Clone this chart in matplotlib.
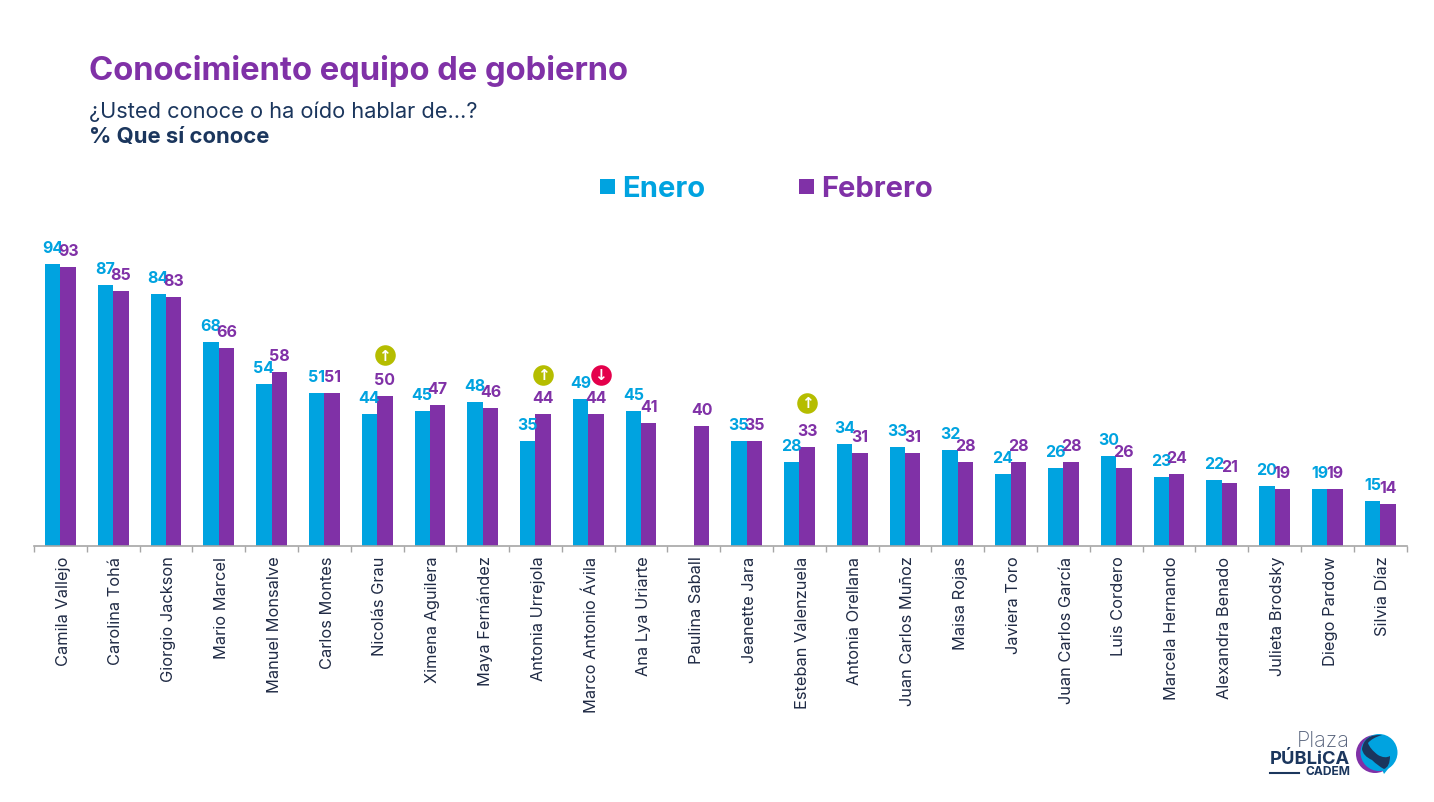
import numpy as np
import matplotlib
matplotlib.use("Agg")
import matplotlib.pyplot as plt
from matplotlib.patches import Circle, Polygon, PathPatch
from matplotlib.path import Path

W,H = 1434,803
FONT = ["Inter","DejaVu Sans"]
plt.rcParams['font.family'] = FONT

names = ["Camila Vallejo","Carolina Tohá","Giorgio Jackson","Mario Marcel","Manuel Monsalve",
         "Carlos Montes","Nicolás Grau","Ximena Aguilera","Maya Fernández","Antonia Urrejola",
         "Marco Antonio Ávila","Ana Lya Uriarte","Paulina Saball","Jeanette Jara","Esteban Valenzuela",
         "Antonia Orellana","Juan Carlos Muñoz","Maisa Rojas","Javiera Toro","Juan Carlos García",
         "Luis Cordero","Marcela Hernando","Alexandra Benado","Julieta Brodsky","Diego Pardow","Silvia Díaz"]
enero = [94,87,84,68,54,51,44,45,48,35,49,45,np.nan,35,28,34,33,32,24,26,30,23,22,20,19,15]
febrero = [93,85,83,66,58,51,50,47,46,44,44,41,40,35,33,31,31,28,28,28,26,24,21,19,19,14]
# significant changes: category index, direction, height of the badge on the y axis
flags = [(6,"up",63.4),(9,"up",57),(10,"down",57),(14,"up",47.7)]

BLUE = "#00A3E0"
PURPLE = "#8031A7"
NAVY = "#1B365D"
GREEN = "#B5BD00"
RED = "#E4004B"

fig = plt.figure(figsize=(W/100,H/100),dpi=100)
# axes placed in pixels: baseline at y=546.5, 3 px per point
ax = fig.add_axes([34/W,1-546.6/H,(1406.5-34)/W,300/H])
ax.set_xlim(-0.5,len(names)-0.5)
ax.set_ylim(0,100)
ax.patch.set_alpha(0)

x = np.arange(len(names))
bw = 15.4/52.8
ax.bar(x-bw/2,enero,bw,color=BLUE,linewidth=0)
ax.bar(x+bw/2,febrero,bw,color=PURPLE,linewidth=0)

for i in x:
    if not np.isnan(enero[i]):
        ax.annotate(str(enero[i]),(i-bw/2,enero[i]),xytext=(0,6),textcoords="offset points",ha="center",va="bottom",
                    fontsize=11.5,fontweight="bold",color=BLUE)
    ax.annotate(str(febrero[i]),(i+bw/2,febrero[i]),xytext=(0,6),textcoords="offset points",ha="center",va="bottom",
                fontsize=11.5,fontweight="bold",color=PURPLE)

for i,d,h in flags:
    if d == "up":
        px,col,gl = i+bw/2,GREEN,"↑"
    else:
        px,col,gl = i+bw/2+0.09,RED,"↓"
    ax.plot([px],[h],"o",ms=14.8,color=col,mew=0,clip_on=False)
    ax.text(px,h,gl,ha="center",va="center",fontsize=11,fontweight="bold",color="white",family="DejaVu Sans")

for s in ["top","left","right"]:
    ax.spines[s].set_visible(False)
ax.spines["bottom"].set_color("#A6A6A6")
ax.spines["bottom"].set_linewidth(1.2)
ax.set_yticks([])
ax.set_xticks(x-0.5,minor=False)
ax.set_xticks([len(names)-0.5],minor=True)
ax.set_xticklabels([])
ax.tick_params(axis="x",which="both",length=4,width=1,color="#A6A6A6",direction="out")
for i,n in enumerate(names):
    ax.annotate(n,(i,0),xytext=(2,-7.2),textcoords="offset points",rotation=90,ha="center",va="top",
                fontsize=11.8,color="#1F2A44")

# titles and legend
fig.text(89/W,1-80/H,"Conocimiento equipo de gobierno",fontsize=23.6,fontweight="bold",color=PURPLE,va="baseline")
fig.text(89/W,1-118/H,"¿Usted conoce o ha oído hablar de…?",fontsize=15.7,color=NAVY,va="baseline")
fig.text(89/W,1-143/H,"% Que sí conoce",fontsize=15.9,fontweight="bold",color=NAVY,va="baseline")

ov = fig.add_axes([0,0,1,1])
ov.set_xlim(0,W)
ov.set_ylim(H,0)
ov.axis("off")
ov.patch.set_alpha(0)
ov.add_patch(plt.Rectangle((600,180),15,15,color=BLUE,lw=0))
ov.add_patch(plt.Rectangle((799,180),15,15,color=PURPLE,lw=0))
ov.text(622,197,"Enero",fontsize=21,fontweight="bold",color=BLUE,va="baseline")
ov.text(821,197,"Febrero",fontsize=21,fontweight="bold",color=PURPLE,va="baseline")

# logo
ov.text(1350,747,"Plaza",fontsize=15.5,color="#55617A",ha="right",va="baseline",fontweight="light")
ov.text(1350,764,"PÚBLiCA",fontsize=13.2,color=NAVY,ha="right",va="baseline",fontweight="bold")
ov.text(1350,775,"CADEM",fontsize=8.7,color=NAVY,ha="right",va="baseline",fontweight="bold")
ov.plot([1270,1299],[774,774],color=NAVY,lw=1.5)
ov.add_patch(Circle((1375,755),19,color=PURPLE,lw=0))
ov.add_patch(Circle((1379,753.5),18.5,color=BLUE,lw=0))
ov.add_patch(Polygon([[1381,768],[1384,775],[1392,765]],color=BLUE,lw=0))
swoosh = Path([(1382,736),(1364,735),(1362,750),(1363,757),(1372,761),(1378,767),(1384,770),
               (1390,768),(1390,757),(1385,760),(1378,756),(1370,750),(1368,744),(1372,739),(1382,736)],
              [Path.MOVETO,Path.CURVE3,Path.CURVE3,Path.CURVE3,Path.CURVE3,Path.CURVE3,Path.CURVE3,
               Path.CURVE3,Path.CURVE3,Path.CURVE3,Path.CURVE3,Path.CURVE3,Path.CURVE3,Path.CURVE3,Path.CURVE3])
ov.add_patch(PathPatch(swoosh,color=NAVY,lw=0))

fig.savefig("out.png",dpi=100)
